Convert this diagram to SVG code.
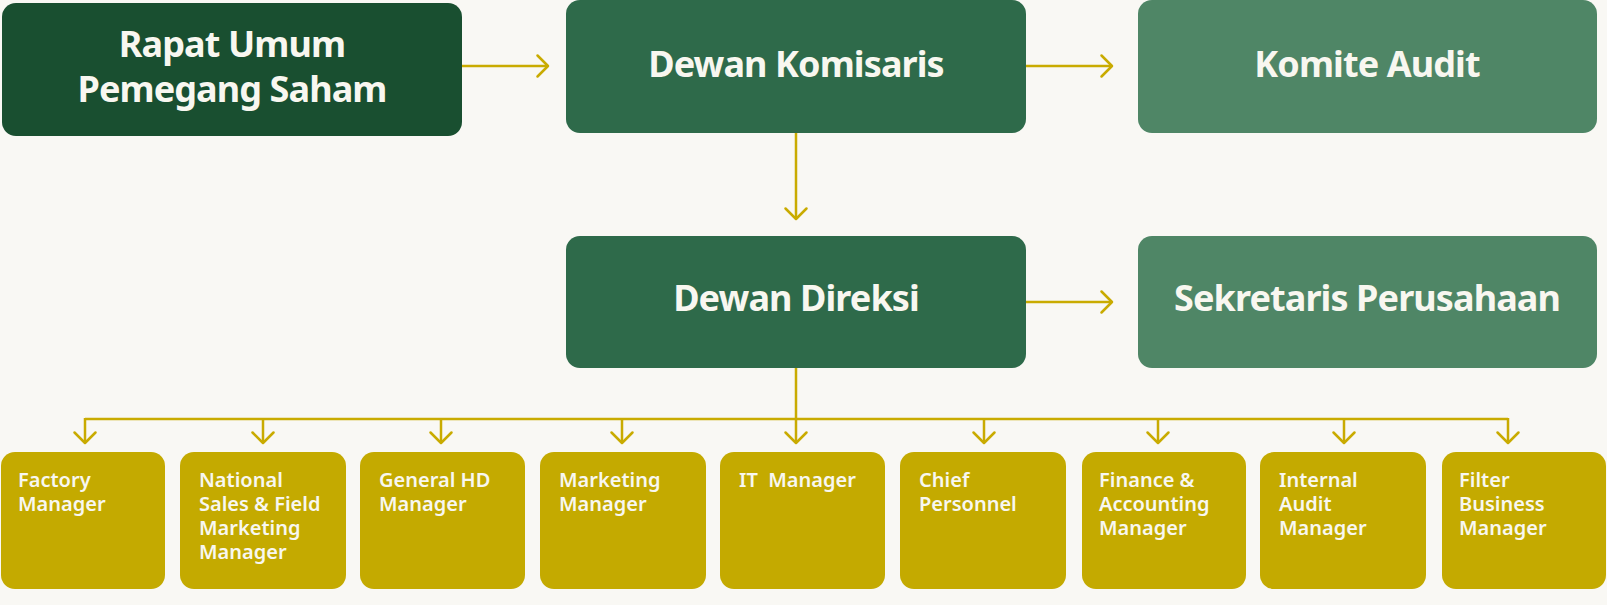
<svg xmlns="http://www.w3.org/2000/svg" width="1607" height="605" viewBox="0 0 1607 605">
<style>
.bg{fill:#f9f8f4}
.n1{fill:#194f30}
.n2{fill:#2e6a4a}
.n3{fill:#4f8666}
.n4{fill:#c4aa00}
.t{font-family:"Noto Sans","Open Sans",sans-serif;font-weight:700;font-size:36px;letter-spacing:-0.9px;fill:#f8f7f0;text-anchor:middle}
.s{font-family:"Noto Sans","Open Sans",sans-serif;font-weight:600;font-size:20px;fill:#f8f7f0;white-space:pre}
.c{fill:none;stroke:#c9ab00;stroke-width:2.5}
</style>
<defs>
<marker id="ah" markerUnits="userSpaceOnUse" viewBox="-14 -14 16 28" markerWidth="16" markerHeight="28" refX="0" refY="0" orient="auto">
<path d="M-10.5,-10.5 L0,0 L-10.5,10.5" fill="none" stroke="#c9ab00" stroke-width="2.5" stroke-linecap="round" stroke-linejoin="round"/>
</marker>
</defs>
<rect class="bg" x="0" y="0" width="1607" height="605"/>
<g id="connectors">
<line class="c" x1="462" y1="66" x2="548" y2="66" marker-end="url(#ah)"/>
<line class="c" x1="1026" y1="66" x2="1112" y2="66" marker-end="url(#ah)"/>
<line class="c" x1="796" y1="133" x2="796" y2="219" marker-end="url(#ah)"/>
<line class="c" x1="1026" y1="302" x2="1112" y2="302" marker-end="url(#ah)"/>
<line class="c" x1="796" y1="368" x2="796" y2="443" marker-end="url(#ah)"/>
<line class="c" x1="85" y1="419" x2="1508" y2="419"/>
<line class="c" x1="85" y1="418" x2="85" y2="443" marker-end="url(#ah)"/>
<line class="c" x1="263" y1="419" x2="263" y2="443" marker-end="url(#ah)"/>
<line class="c" x1="441" y1="419" x2="441" y2="443" marker-end="url(#ah)"/>
<line class="c" x1="622" y1="419" x2="622" y2="443" marker-end="url(#ah)"/>
<line class="c" x1="984" y1="419" x2="984" y2="443" marker-end="url(#ah)"/>
<line class="c" x1="1158" y1="419" x2="1158" y2="443" marker-end="url(#ah)"/>
<line class="c" x1="1344" y1="419" x2="1344" y2="443" marker-end="url(#ah)"/>
<line class="c" x1="1508" y1="418" x2="1508" y2="443" marker-end="url(#ah)"/>
</g>
<g id="rups"><rect class="n1" x="2" y="3" width="460" height="133" rx="14"/>
<text class="t" x="232" y="57">Rapat Umum</text><text class="t" x="232" y="102">Pemegang Saham</text></g>
<g id="komisaris"><rect class="n2" x="566" y="0" width="460" height="133" rx="14"/>
<text class="t" x="796" y="77">Dewan Komisaris</text></g>
<g id="komite"><rect class="n3" x="1138" y="0" width="459" height="133" rx="14"/>
<text class="t" x="1367" y="77">Komite Audit</text></g>
<g id="direksi"><rect class="n2" x="566" y="236" width="460" height="132" rx="14"/>
<text class="t" x="796" y="311">Dewan Direksi</text></g>
<g id="sekretaris"><rect class="n3" x="1138" y="236" width="459" height="132" rx="14"/>
<text class="t" x="1367" y="311">Sekretaris Perusahaan</text></g>
<g id="factory"><rect class="n4" x="1" y="452" width="164" height="137" rx="14"/>
<text class="s" x="18" y="487">Factory</text><text class="s" x="18" y="511">Manager</text></g>
<g id="national"><rect class="n4" x="180" y="452" width="166" height="137" rx="14"/>
<text class="s" x="199" y="487">National</text><text class="s" x="199" y="511">Sales &amp; Field</text><text class="s" x="199" y="535">Marketing</text><text class="s" x="199" y="559">Manager</text></g>
<g id="generalhd"><rect class="n4" x="360" y="452" width="165" height="137" rx="14"/>
<text class="s" x="379" y="487">General HD</text><text class="s" x="379" y="511">Manager</text></g>
<g id="marketing"><rect class="n4" x="540" y="452" width="166" height="137" rx="14"/>
<text class="s" x="559" y="487">Marketing</text><text class="s" x="559" y="511">Manager</text></g>
<g id="it"><rect class="n4" x="720" y="452" width="165" height="137" rx="14"/>
<text class="s" x="739" y="487" xml:space="preserve">IT  Manager</text></g>
<g id="chief"><rect class="n4" x="900" y="452" width="166" height="137" rx="14"/>
<text class="s" x="919" y="487">Chief</text><text class="s" x="919" y="511">Personnel</text></g>
<g id="finance"><rect class="n4" x="1082" y="452" width="164" height="137" rx="14"/>
<text class="s" x="1099" y="487">Finance &amp;</text><text class="s" x="1099" y="511">Accounting</text><text class="s" x="1099" y="535">Manager</text></g>
<g id="internal"><rect class="n4" x="1260" y="452" width="166" height="137" rx="14"/>
<text class="s" x="1279" y="487">Internal</text><text class="s" x="1279" y="511">Audit</text><text class="s" x="1279" y="535">Manager</text></g>
<g id="filter"><rect class="n4" x="1442" y="452" width="164" height="137" rx="14"/>
<text class="s" x="1459" y="487">Filter</text><text class="s" x="1459" y="511">Business</text><text class="s" x="1459" y="535">Manager</text></g>
</svg>
